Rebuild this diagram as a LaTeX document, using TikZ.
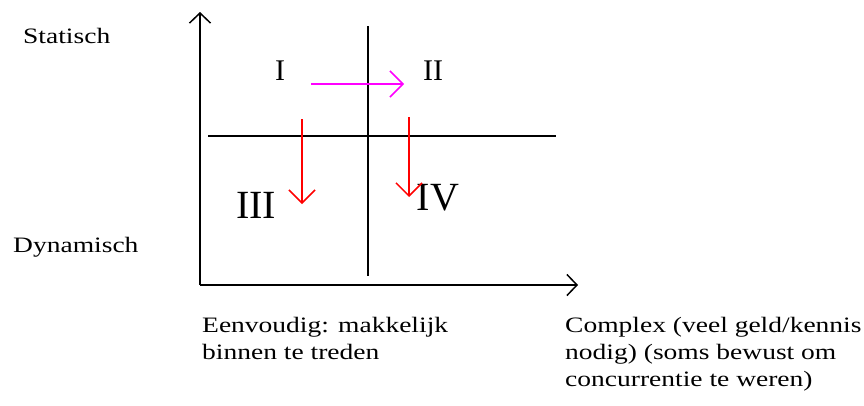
\documentclass[tikz,border=0pt]{standalone}
\usepackage{fontspec}
\setmainfont{Liberation Serif}
\newfontfamily\widefont[FakeStretch=1.25]{Liberation Serif}
\usetikzlibrary{arrows.meta}
\definecolor{mag}{RGB}{255,0,255}
\definecolor{rd}{RGB}{255,0,0}
\tikzset{
  axis/.style={line width=2pt, -{Straight Barb[length=10pt,width=21pt,line width=1.5pt]}},
  divider/.style={line width=2pt},
  move/.style={line width=1.8pt, -{Straight Barb[length=13pt,width=26pt,line width=1.5pt]}},
  lbl/.style={inner sep=0pt, font=\widefont\fontsize{22}{27}\selectfont, align=left},
  num/.style={inner sep=0pt}
}
\begin{document}
\begin{tikzpicture}[x=1pt,y=-1pt]
\useasboundingbox (0,0) rectangle (864,405);
% axes
\coordinate (o) at (200,285);
\coordinate (ytop) at (200,12);
\coordinate (xend) at (578,285);
\draw[axis] (o) -- (ytop);
\draw[axis] (o) -- (xend);
% dividers
\coordinate (vt) at (368,26);
\coordinate (vb) at (368,276);
\coordinate (hl) at (208,136);
\coordinate (hr) at (556,136);
\draw[divider] (vt) -- (vb);
\draw[divider] (hl) -- (hr);
% numerals
\node[num, font=\fontsize{30}{30}\selectfont] (n1) at (280,71) {I};
\node[num, font=\fontsize{30}{30}\selectfont] (n2) at (433,71) {II};
\node[num, font=\fontsize{40}{40}\selectfont] (n3) at (256,205) {III};
\node[num, font=\fontsize{40}{40}\selectfont] (n4) at (438,198) {IV};
% arrows
\coordinate (m1) at (311,84);
\coordinate (m2) at (404,84);
\draw[move, draw=mag] (m1) -- (m2);
\coordinate (r1a) at (302,119);
\coordinate (r1b) at (302,204);
\draw[move, draw=rd] (r1a) -- (r1b);
\coordinate (r2a) at (409,117);
\coordinate (r2b) at (409,197);
\draw[move, draw=rd] (r2a) -- (r2b);
% labels
\node[lbl, anchor=base west] (stat) at (23,43) {Statisch};
\node[lbl, anchor=base west] (dyn) at (13,252) {Dynamisch};
\node[lbl, anchor=north west] (eenv) at (202,317) {Eenvoudig: makkelijk\\binnen te treden};
\node[lbl, anchor=north west] (compl) at (565,317) {Complex (veel geld/kennis\\nodig) (soms bewust om\\concurrentie te weren)};
\end{tikzpicture}
\end{document}
